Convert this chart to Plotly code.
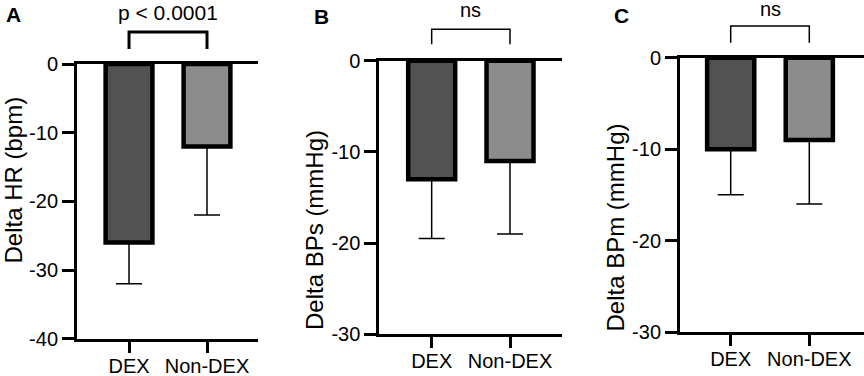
import plotly.graph_objects as go

W, H = 864, 376

categories = ["DEX", "Non-DEX"]
hr_mean = [-26, -12]
hr_err = [6, 10]
bps_mean = [-13, -11]
bps_err = [6.5, 8]
bpm_mean = [-10, -9]
bpm_err = [5, 7]

hr_ticks = [0, -10, -20, -30, -40]
bp_ticks = [0, -10, -20, -30]

panel_letters = ["A", "B", "C"]
y_titles = ["Delta HR (bpm)", "Delta BPs (mmHg)", "Delta BPm (mmHg)"]
sig_labels = ["p < 0.0001", "ns", "ns"]

FONT = "Liberation Sans, Arial, Helvetica, sans-serif"
DARK = "#525252"
LIGHT = "#8c8c8c"


def px_x(p):
    return p / W


def px_y(p):
    return 1 - p / H


# panel geometry in pixels
panels = [
    dict(x0=77, x1=258, yt=64, yb=338.7, xr=[-0.667, 1.654], yr=[-40, 0], ticks=hr_ticks,
         mean=hr_mean, err=hr_err),
    dict(x0=379.3, x1=561.7, yt=60.7, yb=334.3, xr=[-0.669, 1.66], yr=[-30, 0], ticks=bp_ticks,
         mean=bps_mean, err=bps_err),
    dict(x0=680, x1=864, yt=57.7, yb=332, xr=[-0.645, 1.696], yr=[-30, 0], ticks=bp_ticks,
         mean=bpm_mean, err=bpm_err),
]

fig = go.Figure()
layout = dict(
    width=W, height=H, margin=dict(l=0, r=0, t=0, b=0, autoexpand=False),
    paper_bgcolor="white", plot_bgcolor="white", showlegend=False,
    font=dict(family=FONT, color="black", size=21),
)

for i, p in enumerate(panels):
    sfx = "" if i == 0 else str(i + 1)
    xa = "x" + sfx
    ya = "y" + sfx
    fig.add_trace(go.Bar(
        x=[0, 1], y=p["mean"], width=0.6,
        marker=dict(color=[DARK, LIGHT], line=dict(color="black", width=4.5)),
        error_y=dict(type="data", symmetric=False, array=[0, 0], arrayminus=p["err"],
                     color="black", thickness=1.5, width=13),
        xaxis=xa, yaxis=ya, hoverinfo="skip",
    ))
    layout["xaxis" + sfx] = dict(
        domain=[px_x(p["x0"]), px_x(p["x1"])], range=p["xr"], anchor=ya,
        tickmode="array", tickvals=[0, 1], ticktext=categories,
        showline=True, linewidth=3, linecolor="black", mirror=True,
        ticks="outside", ticklen=11, tickwidth=3, tickcolor="black",
        showgrid=False, zeroline=False, fixedrange=True, automargin=False,
        ticklabelstandoff=-4,
        tickfont=dict(size=20),
    )
    layout["yaxis" + sfx] = dict(
        domain=[px_y(p["yb"]), px_y(p["yt"])], range=p["yr"], anchor=xa,
        tickmode="array", tickvals=p["ticks"], ticktext=[str(t) for t in p["ticks"]],
        showline=True, linewidth=3, linecolor="black",
        ticks="outside", ticklen=12, tickwidth=3, tickcolor="black",
        showgrid=False, zeroline=False, fixedrange=True, automargin=False,
        tickfont=dict(size=20),
    )

annotations = []
shapes = []

title_pos = [(12.5, 180), (314, 230), (615, 227.5)]
letter_pos = [(13, 15), (321.7, 16.3), (621.5, 16)]
bracket = [
    dict(top=32, bottom=49, w=3, ty=13, size=21),
    dict(top=29.3, bottom=44.3, w=1.5, ty=10, size=20),
    dict(top=26, bottom=42.7, w=1.5, ty=9, size=20),
]

for i in range(3):
    sfx = "" if i == 0 else str(i + 1)
    tx, ty = title_pos[i]
    annotations.append(dict(
        text=y_titles[i], x=px_x(tx), y=px_y(ty), xref="paper", yref="paper",
        xanchor="center", yanchor="middle", textangle=-90, showarrow=False,
        font=dict(size=24, family=FONT, color="black"),
    ))
    lx, ly = letter_pos[i]
    annotations.append(dict(
        text="<b>%s</b>" % panel_letters[i], x=px_x(lx), y=px_y(ly), xref="paper", yref="paper",
        xanchor="center", yanchor="middle", showarrow=False,
        font=dict(size=21, family=FONT, color="black"),
    ))
    b = bracket[i]
    shapes.append(dict(
        type="path", xref="x" + sfx, yref="paper",
        path="M 0,%f L 0,%f L 1,%f L 1,%f" % (px_y(b["bottom"]), px_y(b["top"]),
                                               px_y(b["top"]), px_y(b["bottom"])),
        line=dict(color="black", width=b["w"]),
    ))
    annotations.append(dict(
        text=sig_labels[i], x=0.5, y=px_y(b["ty"]), xref="x" + sfx, yref="paper",
        xanchor="center", yanchor="middle", showarrow=False,
        font=dict(size=b["size"], family=FONT, color="black"),
    ))

layout["annotations"] = annotations
layout["shapes"] = shapes
fig.update_layout(**layout)

fig.write_html("out.html", config={"displayModeBar": False, "staticPlot": True},
               post_script="document.body.style.margin='0';document.body.style.overflow='hidden';")
